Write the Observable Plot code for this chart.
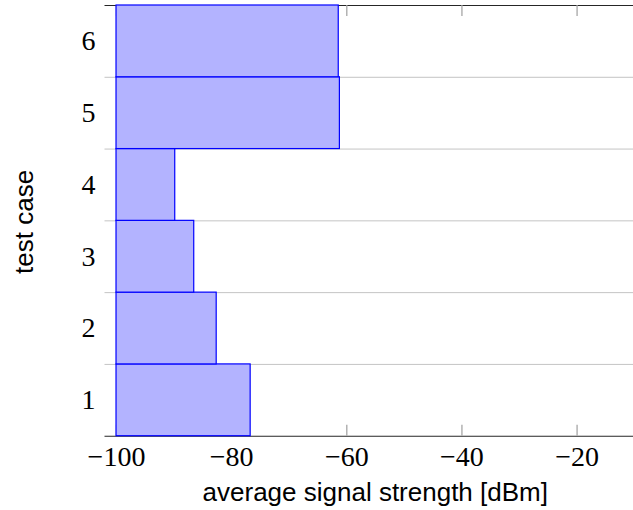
<!DOCTYPE html>
<html>
<head>
<meta charset="utf-8">
<script src="https://cdn.jsdelivr.net/npm/d3@7"></script>
<script src="https://cdn.jsdelivr.net/npm/@observablehq/plot@0.6"></script>
<style>
  html, body { margin: 0; padding: 0; background: #fff; }
  #chart svg { display: block; }
</style>
</head>
<body>
<div id="chart"></div>
<script>
// Data
const testCases = [1, 2, 3, 4, 5, 6];
const signalStrength = [-76.7, -82.6, -86.5, -89.8, -61.2, -61.4];
const baseline = -100;
const xTicks = [-100, -80, -60, -40, -20];
const boundaries = [1.5, 2.5, 3.5, 4.5, 5.5];
const xLabel = "average signal strength [dBm]";
const yLabel = "test case";

const rows = testCases.map((c, i) => ({ case: c, value: signalStrength[i] }));

const serif = "'Liberation Serif', 'DejaVu Serif', serif";
const sans = "'Liberation Sans', Arial, sans-serif";

const chart = Plot.plot({
  width: 633,
  height: 510,
  marginTop: 5,
  marginBottom: 74.3,
  marginLeft: 104.5,
  marginRight: 0,
  style: { background: "#fff", overflow: "visible" },
  x: { domain: [-102, -10.2] },
  y: { domain: [0.5, 6.5] },
  marks: [
    // horizontal gridlines at category boundaries
    Plot.ruleY(boundaries, { stroke: "#c4c4c4", strokeWidth: 1 }),
    // bottom and top frame lines
    Plot.ruleY([0.5, 6.5], { stroke: "#262626", strokeWidth: 1.1 }),
    // inward ticks bottom
    Plot.ruleX(xTicks, { y1: 0.5, y2: 0.5, insetTop: -11, stroke: "#a6a6a6", strokeWidth: 1.3 }),
    // inward ticks top
    Plot.ruleX(xTicks, { y1: 6.5, y2: 6.5, insetBottom: -11, stroke: "#a6a6a6", strokeWidth: 1.3 }),
    // bars
    Plot.rect(rows, {
      x1: () => baseline,
      x2: "value",
      y1: d => d.case - 0.5,
      y2: d => d.case + 0.5,
      fill: "#b3b3ff",
      stroke: "#0000ff",
      strokeWidth: 1.2
    }),
    Plot.axisX({
      ticks: xTicks,
      tickSize: 0,
      tickPadding: 9.5,
      tickFormat: d3.format("d"),
      label: null,
      fontSize: 28,
      fontFamily: serif,
      fill: "#000"
    }),
    Plot.axisY({
      ticks: testCases,
      tickSize: 0,
      tickPadding: 9.5,
      tickFormat: d => String(d),
      label: null,
      fontSize: 28,
      fontFamily: serif,
      fill: "#000"
    }),
    Plot.text([xLabel], {
      frameAnchor: "bottom",
      text: d => d,
      textAnchor: "middle",
      lineAnchor: "bottom",
      dx: 6,
      dy: 64.3,
      fontSize: 26,
      fontFamily: sans,
      fill: "#000"
    }),
    Plot.text([yLabel], {
      frameAnchor: "left",
      text: d => d,
      rotate: -90,
      textAnchor: "middle",
      lineAnchor: "bottom",
      dx: -72.5,
      dy: 1,
      fontSize: 26,
      fontFamily: sans,
      fill: "#000"
    })
  ]
});

document.getElementById("chart").appendChild(chart);
</script>
</body>
</html>
